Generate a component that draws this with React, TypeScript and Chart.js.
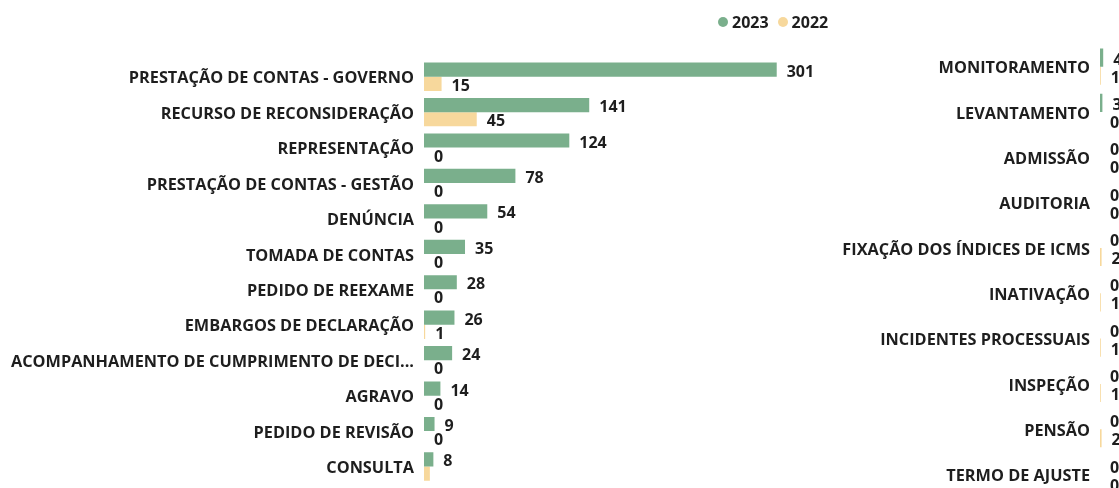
import React, { useEffect, useRef } from "react";
import { Chart, registerables } from "chart.js";

Chart.register(...registerables);

const categoriesLeft = [
  "PRESTAÇÃO DE CONTAS - GOVERNO",
  "RECURSO DE RECONSIDERAÇÃO",
  "REPRESENTAÇÃO",
  "PRESTAÇÃO DE CONTAS - GESTÃO",
  "DENÚNCIA",
  "TOMADA DE CONTAS",
  "PEDIDO DE REEXAME",
  "EMBARGOS DE DECLARAÇÃO",
  "ACOMPANHAMENTO DE CUMPRIMENTO DE DECI...",
  "AGRAVO",
  "PEDIDO DE REVISÃO",
  "CONSULTA",
];
const values2023Left = [301, 141, 124, 78, 54, 35, 28, 26, 24, 14, 9, 8];
const values2022Left = [15, 45, 0, 0, 0, 0, 0, 1, 0, 0, 0, 5];

const categoriesRight = [
  "MONITORAMENTO",
  "LEVANTAMENTO",
  "ADMISSÃO",
  "AUDITORIA",
  "FIXAÇÃO DOS ÍNDICES DE ICMS",
  "INATIVAÇÃO",
  "INCIDENTES PROCESSUAIS",
  "INSPEÇÃO",
  "PENSÃO",
  "TERMO DE AJUSTE",
];
const values2023Right = [4, 3, 0, 0, 0, 0, 0, 0, 0, 0];
const values2022Right = [1, 0, 0, 0, 2, 1, 1, 1, 2, 0];

const seriesNames = ["2023", "2022"];
const GREEN = "#7aaf8c";
const YELLOW = "#f7d89c";
const TEXT = "#1e1e1e";
const FONT_FAMILY = "'Open Sans', 'Noto Sans', sans-serif";
const FONT_SIZE = 16;
const TICK_FONT_SIZE = 16.3;
const X_MAX = 355;

const valueLabels = {
  id: "valueLabels",
  afterDatasetsDraw(chart: any) {
    const ctx = chart.ctx;
    ctx.save();
    ctx.font = `bold ${FONT_SIZE}px ${FONT_FAMILY}`;
    ctx.fillStyle = TEXT;
    ctx.textAlign = "left";
    ctx.textBaseline = "middle";
    chart.data.datasets.forEach((ds: any, di: number) => {
      const meta = chart.getDatasetMeta(di);
      meta.data.forEach((bar: any, i: number) => {
        const y = bar.y + 2.5;
        if (y + 6 > chart.chartArea.bottom - 5) return;
        ctx.fillText(String(ds.data[i]), bar.x + 10, y);
      });
    });
    ctx.restore();
  },
};

function BarChart(props: {
  labels: string[];
  a: number[];
  b: number[];
  axisWidth: number;
  width: number;
  height: number;
  padTop: number;
  padBottom: number;
  left: number;
}) {
  const ref = useRef<HTMLCanvasElement>(null);
  useEffect(() => {
    const chart = new Chart(ref.current!, {
      type: "bar",
      data: {
        labels: props.labels,
        datasets: [
          {
            label: seriesNames[0],
            data: props.a,
            backgroundColor: GREEN,
            categoryPercentage: 0.8,
            barPercentage: 1,
          },
          {
            label: seriesNames[1],
            data: props.b,
            backgroundColor: YELLOW,
            categoryPercentage: 0.8,
            barPercentage: 1,
          },
        ],
      },
      options: {
        indexAxis: "y",
        animation: false,
        responsive: false,
        maintainAspectRatio: false,
        layout: { padding: { top: props.padTop, bottom: props.padBottom, left: 0, right: 0 } },
        plugins: { legend: { display: false }, tooltip: { enabled: false } },
        scales: {
          x: { display: false, min: 0, max: X_MAX },
          y: {
            grid: { display: false, drawTicks: false },
            border: { display: false },
            ticks: {
              color: TEXT,
              padding: 10,
              labelOffset: 2,
              font: { family: FONT_FAMILY, size: TICK_FONT_SIZE, weight: "bold" },
              autoSkip: false,
            },
            afterFit(scale: any) {
              scale.width = props.axisWidth;
            },
          },
        },
      },
      plugins: [valueLabels],
    } as any);
    return () => chart.destroy();
  }, []);
  return (
    <canvas
      ref={ref}
      width={props.width}
      height={props.height}
      style={{ position: "absolute", left: props.left, top: 0, width: props.width, height: props.height }}
    />
  );
}

export default function App() {
  const dot = (c: string) => ({
    display: "inline-block",
    width: 10,
    height: 10,
    borderRadius: 5,
    background: c,
    marginRight: 4,
  });
  return (
    <div
      style={{
        position: "fixed",
        left: 0,
        top: 0,
        width: 1119,
        height: 488,
        overflow: "hidden",
        background: "#fff",
        fontFamily: FONT_FAMILY,
      }}
    >
      <BarChart
        labels={categoriesLeft}
        a={values2023Left}
        b={values2022Left}
        axisWidth={424}
        width={840}
        height={504}
        padTop={59}
        padBottom={4}
        left={0}
      />
      <BarChart
        labels={categoriesRight}
        a={values2023Right}
        b={values2022Right}
        axisWidth={270}
        width={554}
        height={517}
        padTop={44}
        padBottom={3}
        left={830}
      />
      <div
        style={{
          position: "absolute",
          left: 718,
          top: 12,
          display: "flex",
          alignItems: "center",
          fontWeight: 700,
          fontSize: FONT_SIZE,
          color: TEXT,
          lineHeight: "20px",
        }}
      >
        <span style={dot(GREEN)} />
        <span style={{ marginRight: 9 }}>{seriesNames[0]}</span>
        <span style={dot(YELLOW)} />
        <span>{seriesNames[1]}</span>
      </div>
    </div>
  );
}
